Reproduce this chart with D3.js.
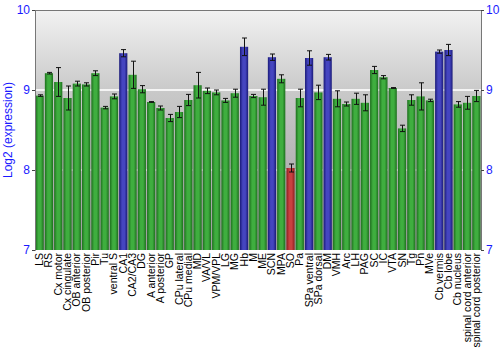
<!DOCTYPE html>
<html><head><meta charset="utf-8">
<script src="https://cdn.jsdelivr.net/npm/d3@7"></script>
<style>body{margin:0;background:#fff}svg{display:block}</style>
</head><body>
<script>
const categories = ["LS","RS","Cx motor","Cx cingulate","OB anterior","OB posterior","Pir","Tu","ventral S","CA1","CA2/CA3","DG","A anterior","A posterior","GP","CPu lateral","CPu medial","MD","VA/VL","VPM/VPL","LG","MG","Hb","M","ME","SCN","MPA","SO","Pa","SPa ventral","SPa dorsal","DM","VMH","Arc","LH","PAG","SC","IC","VTA","SN","Tg","Pn","MVe","Cb vermis","Cb lobe","Cb nucleus","spinal cord anterior","spinal cord posterior"];
const values = [8.93,9.21,9.10,8.90,9.08,9.07,9.21,8.78,8.92,9.46,9.19,9.01,8.85,8.775,8.65,8.725,8.875,9.06,8.99,8.97,8.87,8.96,9.54,8.925,8.91,9.41,9.14,8.025,8.90,9.40,8.97,9.41,8.89,8.825,8.89,8.84,9.25,9.16,9.025,8.52,8.875,8.92,8.87,9.48,9.50,8.82,8.84,8.925];
const errors = [0.01,0.01,0.18,0.15,0.03,0.02,0.03,0.015,0.03,0.045,0.17,0.045,0.005,0.025,0.045,0.07,0.07,0.16,0.035,0.03,0.025,0.05,0.11,0.02,0.1,0.04,0.05,0.05,0.11,0.09,0.09,0.035,0.1,0.025,0.07,0.1,0.045,0.02,0.005,0.04,0.065,0.17,0.015,0.02,0.07,0.035,0.08,0.07];
const groups = ["g","g","g","g","g","g","g","g","g","b","g","g","g","g","g","g","g","g","g","g","g","g","b","g","g","b","g","r","g","b","g","b","g","g","g","g","g","g","g","g","g","g","g","b","b","g","g","g"];
const yTicks = [7,8,9,10];
const yLabel = "Log2 (expression)";

const W=500,H=350, m={l:35,r:19,t:10,b:100};
const FONT="Liberation Sans, Arial, sans-serif";
const svg=d3.select("body").append("svg").attr("width",W).attr("height",H);
const defs=svg.append("defs");
const bg=defs.append("linearGradient").attr("id","bg").attr("x1",0).attr("x2",0).attr("y1",0).attr("y2",1);
bg.append("stop").attr("offset","0").attr("stop-color","#f2f2f2");
bg.append("stop").attr("offset","0.35").attr("stop-color","#c8c8c8");
bg.append("stop").attr("offset","1").attr("stop-color","#9c9c9c");
const cols={g:["#1d6f1d","#3fae3f"],b:["#1a1a78","#4545c0"],r:["#8a1e1e","#c94040"]};
Object.entries(cols).forEach(([k,c])=>{
  const gr=defs.append("linearGradient").attr("id","bar"+k).attr("x1",0).attr("x2",1).attr("y1",0).attr("y2",0);
  gr.append("stop").attr("offset","0").attr("stop-color",c[0]);
  gr.append("stop").attr("offset","0.35").attr("stop-color",c[1]);
  gr.append("stop").attr("offset","0.65").attr("stop-color",c[1]);
  gr.append("stop").attr("offset","1").attr("stop-color",c[0]);
});
const x=d3.scaleBand().domain(categories).range([m.l,W-m.r]).paddingInner(0.12).paddingOuter(0.06);
const y=d3.scaleLinear().domain([7,10]).range([H-m.b,m.t]);
svg.append("rect").attr("x",m.l).attr("y",m.t).attr("width",W-m.l-m.r).attr("height",H-m.t-m.b).attr("fill","url(#bg)");
// grid
svg.append("line").attr("x1",m.l).attr("x2",W-m.r).attr("y1",y(9)).attr("y2",y(9)).attr("stroke","#f4f4f4").attr("stroke-width",2);
svg.append("line").attr("x1",m.l).attr("x2",W-m.r).attr("y1",y(8)).attr("y2",y(8)).attr("stroke","#ffffff").attr("stroke-width",1).attr("stroke-dasharray","3,2").attr("opacity",0.8);
// bars
svg.append("g").selectAll("rect").data(categories).join("rect")
  .attr("x",d=>x(d)).attr("width",x.bandwidth())
  .attr("y",(d,i)=>y(values[i])).attr("height",(d,i)=>y(7)-y(values[i]))
  .attr("fill",(d,i)=>"url(#bar"+groups[i]+")");
// error bars
const eb=svg.append("g").attr("stroke","#111").attr("stroke-width",1);
categories.forEach((d,i)=>{
  const cx=Math.round(x(d)+x.bandwidth()/2)+0.5, y1=y(values[i]+errors[i]), y2=y(values[i]-errors[i]);
  eb.append("line").attr("x1",cx).attr("x2",cx).attr("y1",y1).attr("y2",y2);
  eb.append("line").attr("x1",cx-2.5).attr("x2",cx+2.5).attr("y1",y1).attr("y2",y1);
  eb.append("line").attr("x1",cx-2.5).attr("x2",cx+2.5).attr("y1",y2).attr("y2",y2);
});
// frame
svg.append("line").attr("x1",m.l).attr("x2",W-m.r).attr("y1",m.t+0.5).attr("y2",m.t+0.5).attr("stroke","#777");
const yl=d3.axisLeft(y).tickValues(yTicks).tickSize(3).tickPadding(2).tickFormat(d3.format("d"));
const yr=d3.axisRight(y).tickValues(yTicks).tickSize(3).tickPadding(2).tickFormat(d3.format("d"));
[[yl,m.l],[yr,W-m.r]].forEach(([ax,px])=>{
  const g=svg.append("g").attr("transform",`translate(${px},0)`).call(ax);
  g.select(".domain").attr("stroke","#777");
  g.selectAll(".tick line").attr("stroke","#444");
  g.selectAll("text").attr("fill","#1a1aff").attr("font-family",FONT).attr("font-size",12);
});
// x labels
svg.append("g").selectAll("text").data(categories).join("text")
  .attr("transform",d=>`translate(${x(d)+x.bandwidth()/2+3.5},${H-m.b+3}) rotate(-90)`)
  .attr("text-anchor","end").attr("font-family",FONT).attr("font-size",10.5).attr("fill","#000")
  .text(d=>d);
svg.append("text").attr("transform",`translate(12,${(m.t+H-m.b)/2}) rotate(-90)`).attr("text-anchor","middle")
  .attr("font-family",FONT).attr("font-size",12).attr("fill","#1a1aff").text(yLabel);
</script>
</body></html>
